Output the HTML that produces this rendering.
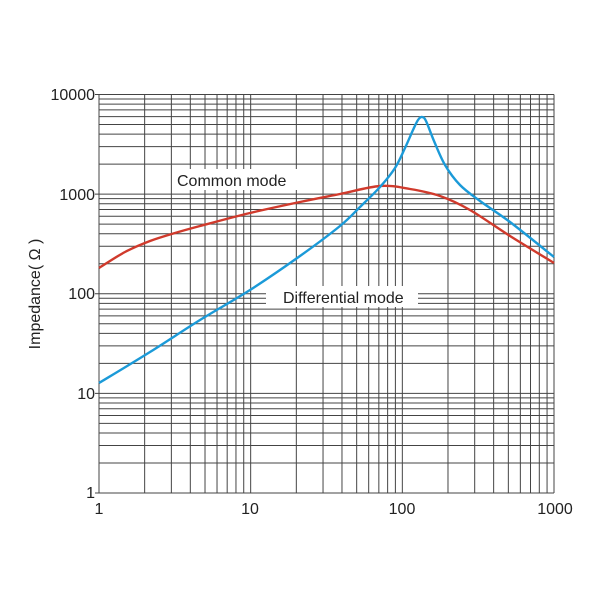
<!DOCTYPE html><html><head><style>body{margin:0;background:#fff}svg{display:block}</style></head><body>
<svg id="s" width="600" height="600" xmlns="http://www.w3.org/2000/svg" font-family="Liberation Sans, sans-serif">
<g id="grid" stroke="#444" stroke-width="1"></g>
<path id="red" fill="none" stroke="#d03a2c" stroke-width="2.4"/>
<path id="blue" fill="none" stroke="#1b9ad8" stroke-width="2.4"/>
<rect x="172" y="169" width="130" height="21" fill="#fff"/>
<text x="177" y="186" font-size="16" fill="#222">Common mode</text>
<rect x="266" y="286" width="152" height="21" fill="#fff"/>
<text x="283" y="303" font-size="16" fill="#222">Differential mode</text>
<g font-size="16" fill="#222" text-anchor="end">
<text x="95" y="100">10000</text><text x="95" y="200">1000</text><text x="95" y="299">100</text><text x="95" y="399">10</text><text x="95" y="498">1</text></g>
<g font-size="16" fill="#222" text-anchor="middle">
<text x="99" y="514">1</text><text x="250" y="514">10</text><text x="402" y="514">100</text><text x="555" y="514">1000</text></g>
<text transform="translate(40,294) rotate(-90)" font-size="16" fill="#222" text-anchor="middle">Impedance( Ω )</text>
</svg>
<script>
const X0=99,X1=554,Y0=94.5,Y1=493;
const xd=(X1-X0)/3,yd=(Y1-Y0)/4;
let g='';
for(let d=0;d<3;d++)for(let k=1;k<10;k++){const x=X0+xd*(d+Math.log10(k));g+=`<line x1="${x}" y1="${Y0}" x2="${x}" y2="${Y1}"/>`;}
g+=`<line x1="${X1}" y1="${Y0}" x2="${X1}" y2="${Y1}"/>`;
for(let d=0;d<4;d++)for(let k=1;k<10;k++){const y=Y1-yd*(d+Math.log10(k));g+=`<line x1="${X0-(k==1?4:0)}" y1="${y}" x2="${X1}" y2="${y}"/>`;}
g+=`<line x1="${X0-4}" y1="${Y0}" x2="${X1}" y2="${Y0}"/>`;
document.getElementById('grid').innerHTML=g;
function cr(p){let d=`M${p[0][0]},${p[0][1]}`;for(let i=0;i<p.length-1;i++){const a=p[i-1]||p[i],b=p[i],c=p[i+1],e=p[i+2]||c;d+=` C${b[0]+(c[0]-a[0])/6},${b[1]+(c[1]-a[1])/6} ${c[0]-(e[0]-b[0])/6},${c[1]-(e[1]-b[1])/6} ${c[0]},${c[1]}`;}return d;}
document.getElementById('red').setAttribute('d',cr([[99,268],[125,252],[150,241],[175,233],[200,226],[250,213],[300,202],[340,194],[380,186],[410,189],[440,196],[470,210],[510,236],[554,263]]));
document.getElementById('blue').setAttribute('d',cr([[99,383],[150,352],[200,320],[250,290],[300,256],[340,226],[360,207],[380,187],[395,168],[405,148],[413,130],[418,120],[422,117],[426,121],[434,141],[445,165],[460,185],[480,201],[510,222],[554,257]]));
</script>
</body></html>
